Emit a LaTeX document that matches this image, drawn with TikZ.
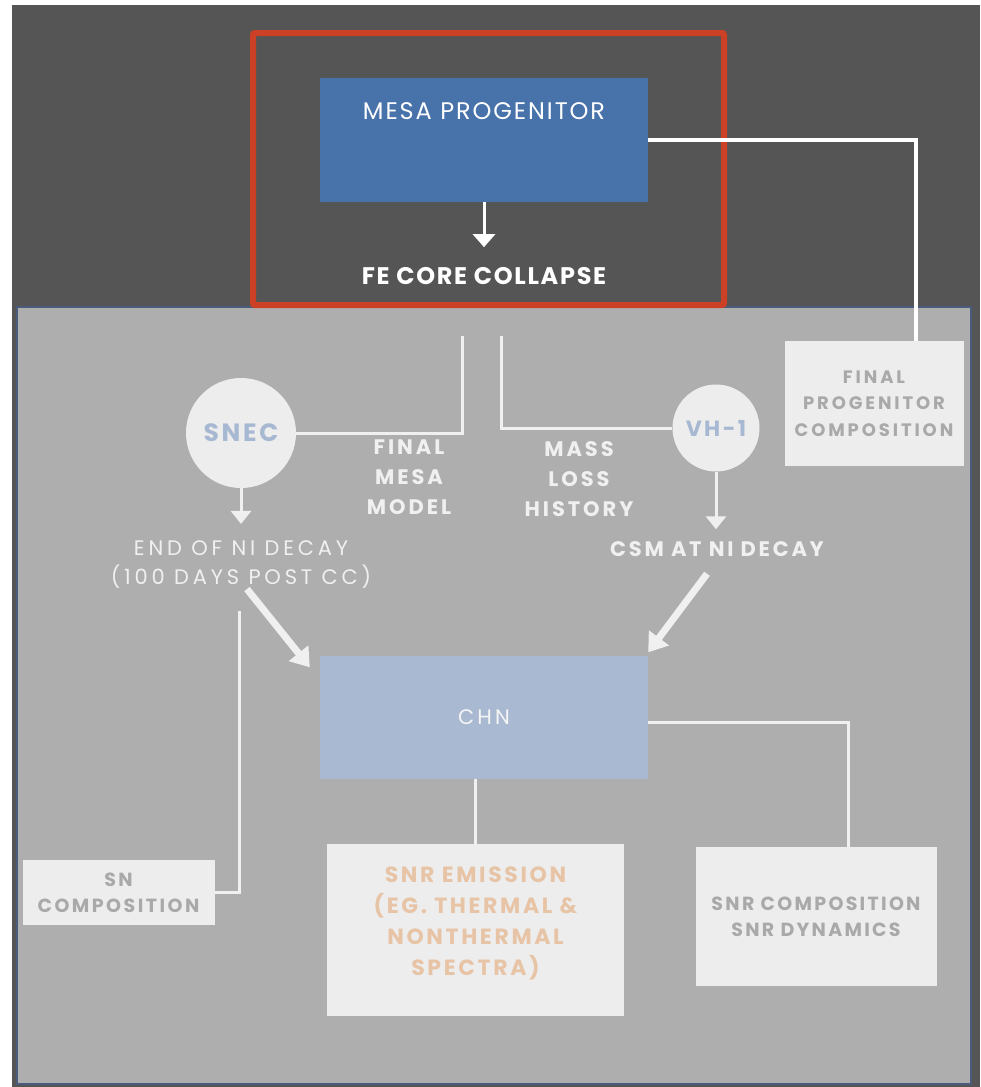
\documentclass[tikz,border=0pt]{standalone}
\usepackage{fontspec}
\setmainfont{Poppins}
\usetikzlibrary{arrows.meta}

\definecolor{bgdark}{HTML}{555555}
\definecolor{panelgray}{HTML}{AEAEAE}
\definecolor{panelrim}{HTML}{4A5B7C}
\definecolor{focusred}{HTML}{CC4125}
\definecolor{mesablue}{HTML}{4872AA}
\definecolor{chnblue}{HTML}{A9B9D1}
\definecolor{boxfill}{HTML}{EDEDED}
\definecolor{boxtext}{HTML}{A9A9A9}
\definecolor{emitorange}{HTML}{E8C4A6}
\definecolor{codeblue}{HTML}{A7B8D2}
\definecolor{wirewhite}{HTML}{F0F0F0}

% size and tracking
\newcommand{\fsz}[3]{\fontsize{#1}{#2}\selectfont\addfontfeatures{LetterSpace=#3}}

\begin{document}
\begin{tikzpicture}[x=1pt,y=-1pt,
  wire/.style={draw=wirewhite, line width=3pt},
  arr/.style={wire, -{Triangle[width=20pt,length=13pt]}},
  fat/.style={draw=wirewhite, line width=7pt, -{Triangle[width=24pt,length=18pt]}},
  lbl/.style={inner sep=0pt, text=wirewhite, align=center},
  outbox/.style={rectangle, fill=boxfill, text=boxtext, align=center, inner sep=0pt},
  toolcirc/.style={circle, fill=boxfill, text=codeblue, inner sep=0pt}]

% background and panel
\fill[white] (0,0) rectangle (980,1087);
\useasboundingbox (0,0) rectangle (980,1087);
\fill[bgdark] (12,5) rectangle (980,1087);
\draw[fill=panelgray, draw=panelrim, line width=2pt] (17,307) rectangle (971,1084);

% top part
\node[draw=focusred, line width=6pt, rounded corners=2pt, minimum width=471pt,
  minimum height=272pt, inner sep=0pt] (focus) at (488.5,169) {};
\node[rectangle, fill=mesablue, minimum width=328pt, minimum height=124pt, inner sep=0pt,
  label={[text=white, font=\fsz{24}{28}{8}, yshift=-45pt]north:MESA PROGENITOR}] (mesa) at (484,140) {};
\node[lbl, text=white, font=\bfseries\fsz{24}{28}{7}] (fecc) at (484,276) {FE CORE COLLAPSE};
\draw[arr, draw=white, -{Triangle[width=22pt,length=13pt]}, shorten >=20pt] (mesa.south) -- (fecc.north);

\node[outbox, minimum width=179pt, minimum height=125pt, font=\bfseries\fsz{18}{26.5}{16}] (fpc) at (874,403.5) {FINAL\\PROGENITOR\\COMPOSITION};
\draw[draw=white, line width=4pt] (mesa.east) -| ([xshift=42pt]fpc.north);

% codes
\coordinate (fmtop) at (462,336);
\coordinate (mltop) at (501,336);
\node[toolcirc, minimum size=110pt, font=\bfseries\fsz{25}{28}{11}] (snec) at (241,433) {SNEC};
\node[toolcirc, minimum size=87pt, font=\bfseries\fsz{22}{26}{11}] (vh) at (716,428) {VH-1};
\draw[wire] (fmtop) |- (snec);
\draw[wire] (mltop) |- (vh);

\node[lbl, font=\bfseries\fsz{21}{30}{14}] (fmm) at (409,477) {FINAL\\MESA\\MODEL};
\node[lbl, font=\bfseries\fsz{21}{30}{14}] (mlh) at (579,479) {MASS\\LOSS\\HISTORY};

\node[lbl, font=\fsz{21}{29}{18}] (endni) at (241,565) {END OF NI DECAY\\(100 DAYS POST CC)};
\node[lbl, font=\bfseries\fsz{21}{29}{13}] (csm) at (717,549) {CSM AT NI DECAY};
\draw[arr, shorten >=17pt] (snec.south) -- (snec.south |- endni.north);
\draw[arr, shorten >=12pt] (vh.south) -- (vh.south |- csm.north);

% CHN and outputs
\node[rectangle, fill=chnblue, minimum width=328pt, minimum height=123pt, inner sep=0pt,
  text=white!96!black, font=\fsz{21}{26}{15}] (chn) at (484,717) {CHN};
\draw[fat] ([xshift=6pt]endni.south) -- ([xshift=-10pt,yshift=-12pt]chn.north west);
\draw[fat] ([xshift=-10pt,yshift=-17pt]csm.south) -- ([yshift=3pt]chn.north east);

\coordinate (sntop) at (239,611);
\node[outbox, minimum width=192pt, minimum height=65pt, font=\bfseries\fsz{19}{26}{13}] (sncomp) at (118.5,892.5) {SN\\COMPOSITION};
\draw[wire] (sntop) |- (sncomp);

\node[outbox, minimum width=297pt, minimum height=172pt,
  label={[lbl, text=emitorange, font=\bfseries\fsz{22}{31}{12}, yshift=7pt]center:{SNR EMISSION\\(EG. THERMAL \&\\NONTHERMAL\\SPECTRA)}}] (snre) at (475.5,930) {};
\draw[wire] (chn.south -| snre.north) -- (snre.north);

\node[outbox, minimum width=241pt, minimum height=139pt, font=\bfseries\fsz{19}{26}{12}] (snrc) at (816,916.5) {SNR COMPOSITION\\SNR DYNAMICS};
\draw[wire] ([yshift=-5pt]chn.east) -| ([xshift=32pt]snrc.north);
\end{tikzpicture}
\end{document}
